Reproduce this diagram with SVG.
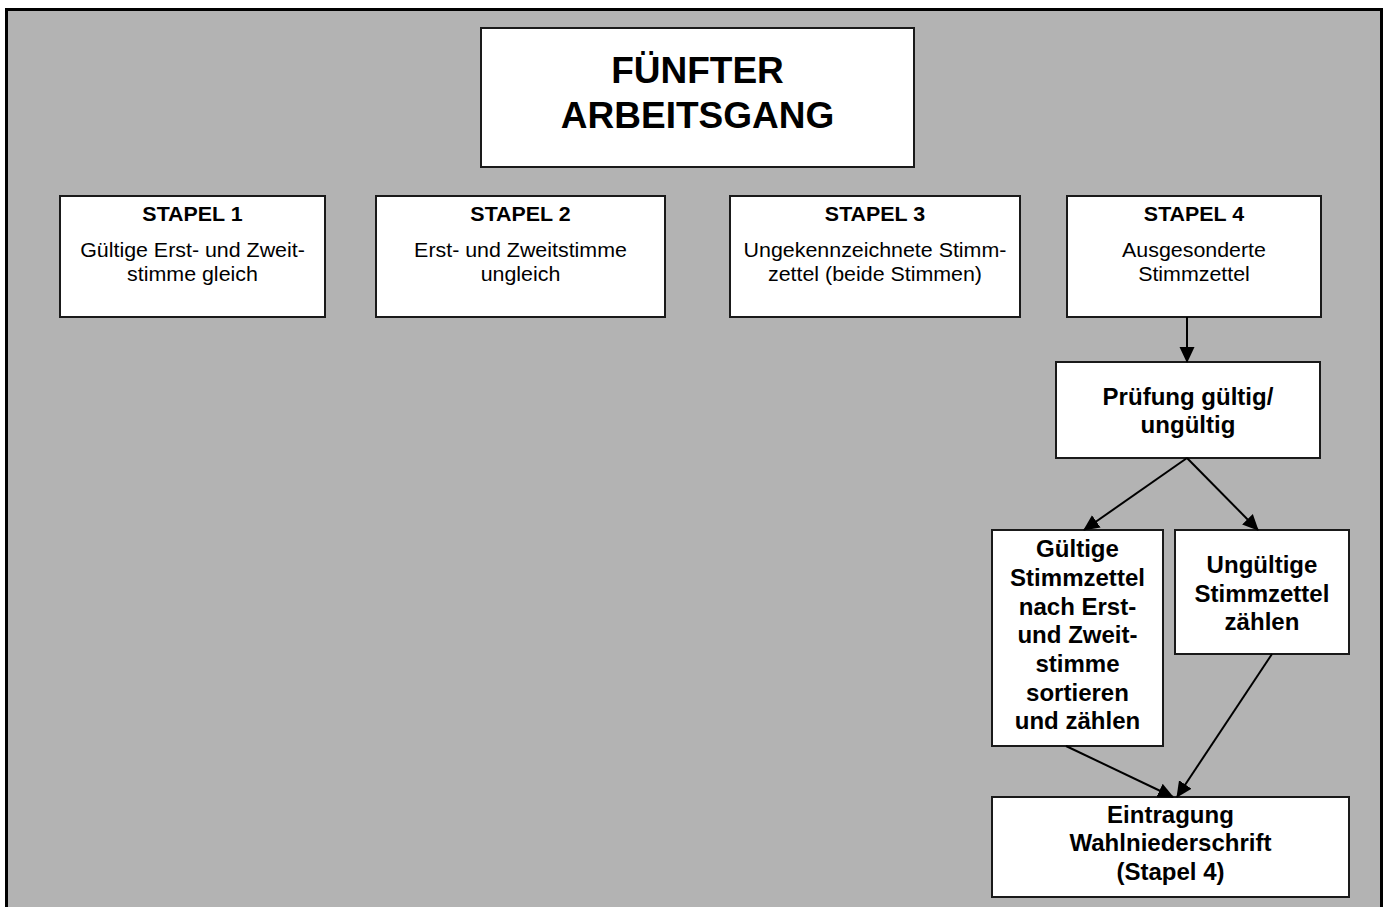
<svg xmlns="http://www.w3.org/2000/svg" width="1387" height="907" viewBox="0 0 1387 907">
  <defs>
    <style>
      .box { fill: #ffffff; stroke: #1a1a1a; stroke-width: 2; }
      .title { font-family: "Liberation Sans", Arial, sans-serif; font-weight: bold; font-size: 37px; fill: #000; text-anchor: middle; }
      .sh { font-family: "Liberation Sans", Arial, sans-serif; font-weight: bold; font-size: 20px; fill: #000; text-anchor: middle; }
      .st { font-family: "Liberation Sans", Arial, sans-serif; font-size: 20px; fill: #000; text-anchor: middle; }
      .fb { font-family: "Liberation Sans", Arial, sans-serif; font-weight: bold; font-size: 23px; fill: #000; text-anchor: middle; }
      .conn { stroke: #000; stroke-width: 2; fill: none; marker-end: url(#arrow); }
    </style>
    <marker id="arrow" markerUnits="userSpaceOnUse" markerWidth="17" markerHeight="17" viewBox="0 0 17 17" refX="15" refY="8.5" orient="auto">
      <path d="M0,1 L16,8.5 L0,16 Z" fill="#000"/>
    </marker>
  </defs>

  <rect x="0" y="0" width="1387" height="907" fill="#ffffff"/>
  <rect id="frame" x="6.5" y="9.5" width="1375" height="1000" fill="#b3b3b3" stroke="#000" stroke-width="3"/>

  <g id="title">
    <rect class="box" x="481" y="28" width="433" height="139"/>
    <text class="title" x="697.5" y="83">FÜNFTER</text>
    <text class="title" x="697.5" y="128">ARBEITSGANG</text>
  </g>

  <g id="stapel1">
    <rect class="box" x="60" y="196" width="265" height="121"/>
    <g transform="matrix(1.07,0,0,1,-13.475,0)">
      <text class="sh" x="192.5" y="221">STAPEL 1</text>
      <text class="st" x="192.5" y="257">Gültige Erst- und Zweit-</text>
      <text class="st" x="192.5" y="281">stimme gleich</text>
    </g>
  </g>

  <g id="stapel2">
    <rect class="box" x="376" y="196" width="289" height="121"/>
    <g transform="matrix(1.07,0,0,1,-36.435,0)">
      <text class="sh" x="520.5" y="221">STAPEL 2</text>
      <text class="st" x="520.5" y="257">Erst- und Zweitstimme</text>
      <text class="st" x="520.5" y="281">ungleich</text>
    </g>
  </g>

  <g id="stapel3">
    <rect class="box" x="730" y="196" width="290" height="121"/>
    <g transform="matrix(1.07,0,0,1,-61.25,0)">
      <text class="sh" x="875" y="221">STAPEL 3</text>
      <text class="st" x="875" y="257">Ungekennzeichnete Stimm-</text>
      <text class="st" x="875" y="281">zettel (beide Stimmen)</text>
    </g>
  </g>

  <g id="stapel4">
    <rect class="box" x="1067" y="196" width="254" height="121"/>
    <g transform="matrix(1.07,0,0,1,-83.58,0)">
      <text class="sh" x="1194" y="221">STAPEL 4</text>
      <text class="st" x="1194" y="257">Ausgesonderte</text>
      <text class="st" x="1194" y="281">Stimmzettel</text>
    </g>
  </g>

  <g id="pruefung">
    <rect class="box" x="1056" y="362" width="264" height="96"/>
    <g transform="matrix(1.045,0,0,1,-53.46,0)">
      <text class="fb" x="1188" y="405">Prüfung gültig/</text>
      <text class="fb" x="1188" y="433">ungültig</text>
    </g>
  </g>

  <g id="gueltige">
    <rect class="box" x="992" y="530" width="171" height="216"/>
    <g transform="matrix(1.045,0,0,1,-48.49,0)">
      <text class="fb" x="1077.5" y="557">Gültige</text>
      <text class="fb" x="1077.5" y="586">Stimmzettel</text>
      <text class="fb" x="1077.5" y="615">nach Erst-</text>
      <text class="fb" x="1077.5" y="643">und Zweit-</text>
      <text class="fb" x="1077.5" y="672">stimme</text>
      <text class="fb" x="1077.5" y="701">sortieren</text>
      <text class="fb" x="1077.5" y="729">und zählen</text>
    </g>
  </g>

  <g id="ungueltige">
    <rect class="box" x="1175" y="530" width="174" height="124"/>
    <g transform="matrix(1.045,0,0,1,-56.79,0)">
      <text class="fb" x="1262" y="573">Ungültige</text>
      <text class="fb" x="1262" y="602">Stimmzettel</text>
      <text class="fb" x="1262" y="630">zählen</text>
    </g>
  </g>

  <g id="eintragung">
    <rect class="box" x="992" y="797" width="357" height="100"/>
    <g transform="matrix(1.045,0,0,1,-52.67,0)">
      <text class="fb" x="1170.5" y="823">Eintragung</text>
      <text class="fb" x="1170.5" y="851">Wahlniederschrift</text>
      <text class="fb" x="1170.5" y="880">(Stapel 4)</text>
    </g>
  </g>

  <g id="connectors">
    <path class="conn" d="M1187,317 L1187,362"/>
    <path class="conn" d="M1187,458 L1084,530"/>
    <path class="conn" d="M1187,458 L1258,530"/>
    <path class="conn" d="M1066,746 L1173,797"/>
    <path class="conn" d="M1272,654 L1177,797"/>
  </g>
</svg>
